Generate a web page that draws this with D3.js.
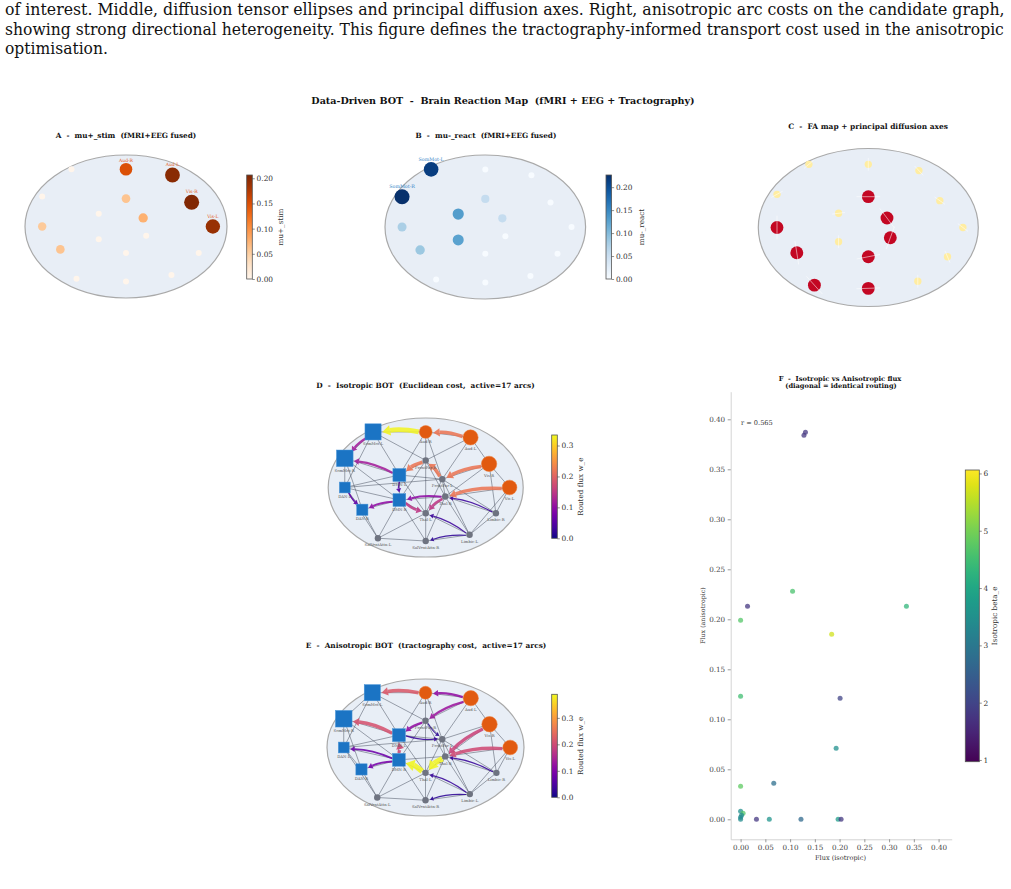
<!DOCTYPE html>
<html>
<head>
<meta charset="utf-8">
<script src="https://cdn.jsdelivr.net/npm/d3@7"></script>
<style>
  body { margin: 0; background: #fff; }
  svg { display: block; }
</style>
</head>
<body>
<svg id="fig" width="1011" height="889"></svg>
<script>
// ---- caption text (end of the previous figure caption) ----
const captionLines = [
  "of interest. Middle, diffusion tensor ellipses and principal diffusion axes. Right, anisotropic arc costs on the candidate graph,",
  "showing strong directional heterogeneity. This figure defines the tractography-informed transport cost used in the anisotropic",
  "optimisation."
];

// ---- brain regions (layout in ellipse units) ----
const nodeNames = ["SomMot-L","SomMot-R","DAN-L","DAN-R","DMN-L","DMN-R","Aud-R","Aud-L","Vis-R","Vis-L",
                   "FrontPar-R","FrontPar-L","Thal-R","Thal-L","Limbic-R","Limbic-L","SalVentAttn-L","SalVentAttn-R"];
const nodeX = [-0.54,-0.83,-0.83,-0.65,-0.27,-0.27, 0.00, 0.46, 0.65, 0.86, 0.00, 0.17, 0.20, 0.00, 0.72, 0.45,-0.49, 0.00];
const nodeY = [-0.80,-0.42, 0.00, 0.32,-0.18, 0.18,-0.80,-0.72,-0.34, 0.00,-0.39,-0.12, 0.13, 0.37, 0.37, 0.68, 0.73, 0.77];
const muStim  = [0,0,0.055,0.06,0,0,0.15,0.20,0.205,0.19,0.06,0.075,0,0,0,0,0,0];
const muReact = [0.215,0.226,0.075,0.085,0.13,0.125,0,0,0,0,0.055,0.055,0,0,0,0,0,0];
const faValue = [0.12,0.12,0.85,0.85,0.12,0.12,0.12,0.12,0.12,0.12,0.85,0.85,0.85,0.85,0.12,0.12,0.85,0.85];
const axisAngle = [-40,-29,90,81,-7,90,90,47,35,37,0,53,110,-11,67,90,48,-2];

// candidate graph
const candidateEdges = [
  ["SomMot-L","SomMot-R"],["SomMot-L","Aud-R"],["SomMot-L","DMN-L"],["SomMot-L","FrontPar-R"],["SomMot-L","DAN-L"],
  ["SomMot-R","DAN-L"],["SomMot-R","DAN-R"],["SomMot-R","DMN-L"],["SomMot-R","DMN-R"],
  ["DAN-L","DAN-R"],["DAN-L","DMN-L"],["DAN-L","DMN-R"],["DAN-L","SalVentAttn-L"],["DAN-L","FrontPar-L"],
  ["DAN-R","DMN-R"],["DAN-R","SalVentAttn-L"],
  ["DMN-L","DMN-R"],["DMN-L","FrontPar-R"],["DMN-L","FrontPar-L"],["DMN-L","Aud-R"],["DMN-L","Thal-L"],
  ["DMN-R","Thal-R"],["DMN-R","Thal-L"],["DMN-R","SalVentAttn-L"],["DMN-R","SalVentAttn-R"],["DMN-R","FrontPar-R"],
  ["Aud-R","Aud-L"],["Aud-R","FrontPar-R"],["Aud-R","FrontPar-L"],
  ["Aud-L","FrontPar-R"],["Aud-L","Vis-R"],["Aud-L","FrontPar-L"],
  ["Vis-R","FrontPar-L"],["Vis-R","Vis-L"],["Vis-R","Limbic-R"],["Vis-R","Thal-R"],
  ["Vis-L","Thal-R"],["Vis-L","Limbic-R"],["Vis-L","Limbic-L"],
  ["FrontPar-R","FrontPar-L"],["FrontPar-R","Thal-L"],["FrontPar-R","Thal-R"],
  ["FrontPar-L","Thal-R"],["FrontPar-L","Limbic-L"],["FrontPar-L","Thal-L"],["FrontPar-L","Limbic-R"],
  ["Thal-R","Thal-L"],["Thal-R","Limbic-R"],["Thal-R","Limbic-L"],["Thal-R","SalVentAttn-R"],
  ["Thal-L","SalVentAttn-L"],["Thal-L","SalVentAttn-R"],["Thal-L","Limbic-L"],
  ["Limbic-R","Limbic-L"],["Limbic-L","SalVentAttn-R"],["SalVentAttn-L","SalVentAttn-R"]
];

// active arcs [from, to, flux]
const isoArcs = [
  ["Aud-R","SomMot-L",0.33],["Aud-L","Aud-R",0.22],["Vis-R","FrontPar-L",0.22],["Vis-L","Thal-R",0.22],
  ["FrontPar-L","FrontPar-R",0.22],["FrontPar-R","DMN-L",0.22],["Thal-R","Thal-L",0.15],["DMN-R","Thal-L",0.15],
  ["Thal-R","DMN-R",0.10],["DMN-L","SomMot-R",0.12],["SomMot-L","SomMot-R",0.12],["DMN-R","DAN-R",0.10],
  ["DMN-L","DMN-R",0.05],["DAN-L","DAN-R",0.06],["Limbic-R","Thal-R",0.03],["Limbic-L","Thal-L",0.03],
  ["Limbic-L","SalVentAttn-R",0.02]
];
const anisoArcs = [
  ["Aud-R","SomMot-L",0.22],["Aud-L","Aud-R",0.12],["Aud-L","FrontPar-R",0.13],["FrontPar-R","DMN-L",0.12],
  ["DMN-L","SomMot-R",0.21],["DMN-R","DMN-L",0.20],["Thal-R","Thal-L",0.385],["Thal-L","DMN-R",0.385],
  ["Vis-R","Thal-R",0.19],["Vis-L","Thal-R",0.20],["Limbic-R","Thal-R",0.03],["Limbic-L","Thal-L",0.03],
  ["Limbic-L","SalVentAttn-R",0.02],["DMN-R","DAN-L",0.08],["DMN-R","DAN-R",0.09],["DMN-L","FrontPar-L",0.03],
  ["FrontPar-R","FrontPar-L",0.02]
];

// panel F scatter
const fluxIso   = [0.128,0.131,0.014,0.105,0.335,0.000,0.184,0.000,0.201,0.193,0.067,0.000,0.000,0.005,0.002,0.000,0.000,0.032,0.058,0.122,0.197,0.203];
const fluxAniso = [0.384,0.387,0.213,0.228,0.213,0.199,0.185,0.123,0.121,0.071,0.036,0.033,0.008,0.006,0.004,0.002,0.000,0.000,0.000,0.000,0.000,0.000];
const betaIso   = [1.8,1.8,1.8,4.6,4.3,4.7,5.7,4.5,2.0,3.5,2.8,4.8,3.5,4.7,3.4,3.4,3.4,1.8,3.6,2.7,3.8,1.8];
const fluxTicks = [0,0.05,0.10,0.15,0.20,0.25,0.30,0.35,0.40];
const betaTicks = [1,2,3,4,5,6];

const svg = d3.select("#fig");
const serif = "'DejaVu Serif', serif";

const nodes = nodeNames.map((name, i) => ({
  name, x: nodeX[i], y: nodeY[i], stim: muStim[i], react: muReact[i], fa: faValue[i], ang: axisAngle[i]
}));
const byName = new Map(nodes.map(n => [n.name, n]));

function addText(x, y, str, size, opts = {}) {
  const t = svg.append("text").attr("x", x).attr("y", y)
    .attr("font-family", opts.family || serif)
    .attr("font-size", size)
    .attr("font-weight", opts.weight || "normal")
    .attr("fill", opts.fill || "#222")
    .attr("text-anchor", opts.anchor || "middle")
    .style("white-space", "pre")
    .text(str);
  if (opts.rotate) t.attr("transform", `rotate(${opts.rotate},${x},${y})`).attr("dominant-baseline", "central");
  if (opts.fitWidth) {
    const len = t.node().getComputedTextLength();
    t.attr("font-size", size * opts.fitWidth / len);
  }
  return t;
}

// caption (justified; squeezed horizontally to the narrower LaTeX face)
const capWidths = [1000, 1000, 103];
captionLines.forEach((line, i) => {
  const t = svg.append("text").attr("x", 0).attr("y", 0)
    .attr("font-family", serif).attr("font-size", 16.5).attr("fill", "#111")
    .text(line);
  const len = t.node().getComputedTextLength();
  t.attr("transform", `translate(5,${15 + i * 19.5}) scale(${capWidths[i] / len},1)`);
});

// figure title
addText(503, 104, "Data-Driven BOT  -  Brain Reaction Map  (fMRI + EEG + Tractography)", 9,
        { weight: "bold", fill: "#111", fitWidth: 384 });

// colorbar helper
let gradId = 0;
function colorbar(x, y, w, h, domain, interp, ticks, fmt, label, labelX) {
  const id = "grad" + (gradId++);
  const grad = svg.append("defs").append("linearGradient").attr("id", id)
    .attr("x1", 0).attr("y1", 1).attr("x2", 0).attr("y2", 0);
  d3.range(0, 1.0001, 0.05).forEach(t => grad.append("stop").attr("offset", t).attr("stop-color", interp(t)));
  svg.append("rect").attr("x", x).attr("y", y).attr("width", w).attr("height", h)
    .attr("fill", `url(#${id})`).attr("stroke", "#555").attr("stroke-width", 0.8);
  const s = d3.scaleLinear().domain(domain).range([y + h, y]);
  const ax = svg.append("g").attr("transform", `translate(${x + w},0)`)
    .call(d3.axisRight(s).tickValues(ticks).tickFormat(fmt).tickSize(2.5).tickPadding(1.8));
  ax.select(".domain").remove();
  ax.selectAll(".tick line").attr("stroke", "#444").attr("stroke-width", 0.6);
  ax.selectAll(".tick text").attr("font-size", 7.4).attr("fill", "#333").attr("font-family", serif);
  addText(labelX, y + h / 2, label, 7.2, { rotate: -90, fill: "#333" });
}

// brain ellipse panel
function brainPanel(cx, cy, rx, ry) {
  const p = {
    x: d3.scaleLinear().domain([-1, 1]).range([cx - rx, cx + rx]),
    y: d3.scaleLinear().domain([-1, 1]).range([cy - ry, cy + ry])
  };
  p.g = svg.append("g");
  p.g.append("ellipse").attr("cx", cx).attr("cy", cy).attr("rx", rx).attr("ry", ry)
    .attr("fill", "#e8eef6").attr("stroke", "#a9a9a9").attr("stroke-width", 1.2);
  return p;
}

// ---- A: mu+ stim ----
addText(126, 137.5, "A  -  mu+_stim  (fMRI+EEG fused)", 7, { weight: "bold", fill: "#111", fitWidth: 141 });
const pA = brainPanel(126, 226.5, 101, 71.5);
const stimMax = 0.2065;
const colA = d3.scaleSequential(d3.interpolateOranges).domain([0, stimMax]);
pA.g.selectAll("circle.node").data(nodes).join("circle").attr("class", "node")
  .attr("cx", d => pA.x(d.x)).attr("cy", d => pA.y(d.y))
  .attr("r", d => 3 + 22 * d.stim).attr("fill", d => colA(d.stim));
pA.g.selectAll("text.lab").data(nodes.filter(d => d.stim > 0.1)).join("text").attr("class", "lab")
  .attr("x", d => pA.x(d.x)).attr("y", d => pA.y(d.y) - (3 + 22 * d.stim) - 1.5)
  .attr("text-anchor", "middle").attr("font-family", serif).attr("font-size", 4.5)
  .attr("fill", "#e6621f").text(d => d.name);
colorbar(246.7, 175, 5.6, 104, [0, stimMax], d3.interpolateOranges, [0, 0.05, 0.10, 0.15, 0.20],
         d3.format(".2f"), "mu+_stim", 280);

// ---- B: mu- react ----
addText(486, 137.5, "B  -  mu-_react  (fMRI+EEG fused)", 7, { weight: "bold", fill: "#111", fitWidth: 141 });
const pB = brainPanel(485.3, 227, 100.3, 72);
const reactMax = 0.2265;
const colB = d3.scaleSequential(d3.interpolateBlues).domain([0, reactMax]);
pB.g.selectAll("circle.node").data(nodes).join("circle").attr("class", "node")
  .attr("cx", d => pB.x(d.x)).attr("cy", d => pB.y(d.y))
  .attr("r", d => 3 + 20 * d.react).attr("fill", d => colB(d.react));
pB.g.selectAll("text.lab").data(nodes.filter(d => d.react > 0.2)).join("text").attr("class", "lab")
  .attr("x", d => pB.x(d.x)).attr("y", d => pB.y(d.y) - (3 + 20 * d.react) - 1.5)
  .attr("text-anchor", "middle").attr("font-family", serif).attr("font-size", 4.8)
  .attr("fill", "#3a87c8").text(d => d.name);
colorbar(606, 175, 5.6, 104, [0, reactMax], d3.interpolateBlues, [0, 0.05, 0.10, 0.15, 0.20],
         d3.format(".2f"), "mu-_react", 641);

// ---- C: FA map ----
addText(868, 129, "C  -  FA map + principal diffusion axes", 7, { weight: "bold", fill: "#111", fitWidth: 160 });
const pC = brainPanel(868.3, 227.5, 110, 79);
const colC = d3.scaleSequential(d3.interpolateYlOrRd).domain([0, 1]);
pC.g.selectAll("circle.node").data(nodes).join("circle").attr("class", "node")
  .attr("cx", d => pC.x(d.x)).attr("cy", d => pC.y(d.y))
  .attr("r", d => 3.2 + 3.8 * d.fa).attr("fill", d => colC(d.fa));
pC.g.selectAll("line.ax").data(nodes).join("line").attr("class", "ax")
  .each(function (d) {
    const half = 5.5 + 7.5 * d.fa, a = d.ang * Math.PI / 180;
    const cx = pC.x(d.x), cy = pC.y(d.y);
    d3.select(this)
      .attr("x1", cx - half * Math.cos(a)).attr("y1", cy - half * Math.sin(a))
      .attr("x2", cx + half * Math.cos(a)).attr("y2", cy + half * Math.sin(a));
  })
  .attr("stroke", "#fff").attr("stroke-width", 0.7).attr("stroke-opacity", 0.75);

// ---- D / E: BOT networks ----
function nodeExtent(n) {
  if (n.stim > 0.1) return 3 + 23 * n.stim;
  if (n.react > 0.065) return (8 + 38 * n.react) / 2;
  return 3.2;
}

function networkPanel(p, arcs, fmax) {
  const g = p.g;
  g.selectAll("line.edge").data(candidateEdges).join("line").attr("class", "edge")
    .attr("x1", d => p.x(byName.get(d[0]).x)).attr("y1", d => p.y(byName.get(d[0]).y))
    .attr("x2", d => p.x(byName.get(d[1]).x)).attr("y2", d => p.y(byName.get(d[1]).y))
    .attr("stroke", "#4a5262").attr("stroke-opacity", 0.75).attr("stroke-width", 0.7);

  const col = d3.scaleSequential(d3.interpolatePlasma).domain([0, fmax]);
  const sorted = arcs.slice().sort((a, b) => a[2] - b[2]);
  sorted.forEach(([s, t, f]) => {
    const a = byName.get(s), b = byName.get(t);
    const x1 = p.x(a.x), y1 = p.y(a.y), x2 = p.x(b.x), y2 = p.y(b.y);
    const L = Math.hypot(x2 - x1, y2 - y1), ux = (x2 - x1) / L, uy = (y2 - y1) / L;
    const sx = x1 + ux * (nodeExtent(a) + 0.5), sy = y1 + uy * (nodeExtent(a) + 0.5);
    const ex = x2 - ux * (nodeExtent(b) + 1.2), ey = y2 - uy * (nodeExtent(b) + 1.2);
    const rad = 0.1;
    const mx = (sx + ex) / 2, my = (sy + ey) / 2;
    const qx = mx - rad * (ey - sy), qy = my + rad * (ex - sx);
    const w = 0.8 + 12.5 * f;
    const hl = 2.5 + 1.1 * w, hw = 1.5 + 0.75 * w;
    let tx = ex - qx, ty = ey - qy;
    const tl = Math.hypot(tx, ty); tx /= tl; ty /= tl;
    const bx = ex - tx * hl, by = ey - ty * hl;
    const c = col(f);
    g.append("path").attr("d", `M${sx},${sy}Q${qx},${qy} ${bx},${by}`)
      .attr("fill", "none").attr("stroke", c).attr("stroke-width", w).attr("stroke-opacity", 0.88);
    g.append("path")
      .attr("d", `M${ex},${ey}L${bx - ty * hw},${by + tx * hw}L${bx + ty * hw},${by - tx * hw}Z`)
      .attr("fill", c).attr("fill-opacity", 0.9);
  });

  const mids = nodes.filter(n => n.stim <= 0.1 && n.react <= 0.065);
  const srcs = nodes.filter(n => n.stim > 0.1);
  const sinks = nodes.filter(n => n.react > 0.065);
  g.selectAll("circle.mid").data(mids).join("circle").attr("class", "mid")
    .attr("cx", d => p.x(d.x)).attr("cy", d => p.y(d.y)).attr("r", 3.2).attr("fill", "#6e7380");
  g.selectAll("circle.src").data(srcs).join("circle").attr("class", "src")
    .attr("cx", d => p.x(d.x)).attr("cy", d => p.y(d.y)).attr("r", d => nodeExtent(d))
    .attr("fill", "#e15a10").attr("stroke", "#ee7a35").attr("stroke-width", 0.5);
  g.selectAll("rect.sink").data(sinks).join("rect").attr("class", "sink")
    .attr("x", d => p.x(d.x) - nodeExtent(d)).attr("y", d => p.y(d.y) - nodeExtent(d))
    .attr("width", d => 2 * nodeExtent(d)).attr("height", d => 2 * nodeExtent(d))
    .attr("fill", "#1b74c4").attr("stroke", "#4a95d8").attr("stroke-width", 0.5);
  g.selectAll("text.nl").data(nodes).join("text").attr("class", "nl")
    .attr("x", d => p.x(d.x)).attr("y", d => p.y(d.y) + nodeExtent(d) + 5)
    .attr("text-anchor", "middle").attr("font-family", serif).attr("font-size", 3.8)
    .attr("fill", "#555").text(d => d.name);
}

addText(425.5, 387.5, "D  -  Isotropic BOT  (Euclidean cost,  active=17 arcs)", 7,
        { weight: "bold", fill: "#111", fitWidth: 219 });
const isoMax = 0.334;
networkPanel(brainPanel(425.7, 487.5, 97.5, 69.5), isoArcs, isoMax);
colorbar(551.7, 435, 5.6, 103.3, [0, isoMax], d3.interpolatePlasma, [0, 0.1, 0.2, 0.3],
         d3.format(".1f"), "Routed flux w_e", 581);

addText(426, 647.5, "E  -  Anisotropic BOT  (tractography cost,  active=17 arcs)", 7,
        { weight: "bold", fill: "#111", fitWidth: 241 });
const anisoMax = 0.389;
networkPanel(brainPanel(425.5, 747.5, 98.5, 68.5), anisoArcs, anisoMax);
colorbar(551.7, 694.3, 5.6, 103, [0, anisoMax], d3.interpolatePlasma, [0, 0.1, 0.2, 0.3],
         d3.format(".1f"), "Routed flux w_e", 581);

// ---- F: scatter ----
addText(840, 380.5, "F  -  Isotropic vs Anisotropic flux", 6.5, { weight: "bold", fill: "#111", fitWidth: 122.7 });
addText(841, 388, "(diagonal = identical routing)", 6.5, { weight: "bold", fill: "#111", fitWidth: 111.7 });

const fx = d3.scaleLinear().domain([-0.02, 0.4265]).range([730.7, 951.7]);
const fy = d3.scaleLinear().domain([-0.02, 0.4276]).range([839.3, 391.7]);
const betaDomain = [0.97, 6.06];
const colF = d3.scaleSequential(d3.interpolateViridis).domain(betaDomain);

function styleAxis(ax) {
  ax.select(".domain").attr("stroke", "#cfcfcf").attr("stroke-width", 0.9);
  ax.selectAll(".tick line").attr("stroke", "#555").attr("stroke-width", 0.6);
  ax.selectAll(".tick text").attr("font-size", 7.2).attr("fill", "#444").attr("font-family", serif);
}
styleAxis(svg.append("g").attr("transform", "translate(0,839.3)")
  .call(d3.axisBottom(fx).tickValues(fluxTicks).tickFormat(d3.format(".2f")).tickSize(3).tickSizeOuter(0).tickPadding(2.5)));
styleAxis(svg.append("g").attr("transform", "translate(730.7,0)")
  .call(d3.axisLeft(fy).tickValues(fluxTicks).tickFormat(d3.format(".2f")).tickSize(3).tickSizeOuter(0).tickPadding(2.5)));

svg.append("g").selectAll("circle").data(fluxIso).join("circle")
  .attr("cx", (d, i) => fx(d)).attr("cy", (d, i) => fy(fluxAniso[i])).attr("r", 2.5)
  .attr("fill", (d, i) => colF(betaIso[i])).attr("fill-opacity", 0.75);

addText(741, 424.5, "r = 0.565", 6.6, { anchor: "start", fill: "#333" });
addText(840.5, 859.5, "Flux (isotropic)", 6.3, { fill: "#333", fitWidth: 51 });
addText(702, 615.5, "Flux (anisotropic)", 6.3, { rotate: -90, fill: "#333" });

colorbar(965.3, 470, 14, 291.7, betaDomain, d3.interpolateViridis, betaTicks, d3.format("d"),
         "Isotropic beta_e", 995);
</script>
</body>
</html>
